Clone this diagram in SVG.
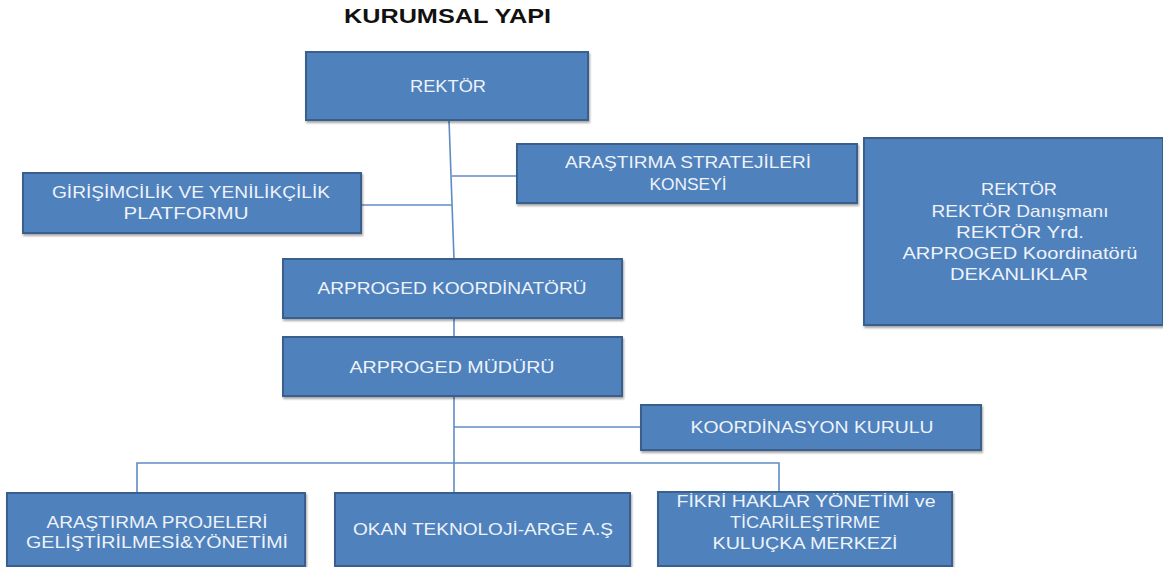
<svg xmlns="http://www.w3.org/2000/svg" width="1163" height="567" viewBox="0 0 1163 567">
<defs>
<style>
.box{fill:#4f81bd;stroke:#3a5f8c;stroke-width:2}
.t{font-family:"Liberation Sans",Arial,sans-serif;font-size:16.5px;fill:#eef3fa;text-anchor:middle}
.c{stroke:#5f8cc4;stroke-width:1.6;fill:none}
.title{font-family:"Liberation Sans",Arial,sans-serif;font-size:20px;font-weight:bold;fill:#111}
</style>
<filter id="sh" x="-5%" y="-5%" width="110%" height="120%">
<feDropShadow dx="1" dy="2" stdDeviation="1.2" flood-color="#000" flood-opacity="0.35"/>
</filter>
</defs>
<rect width="1163" height="567" fill="#fff"/>
<text class="title" x="344" y="23" textLength="207" lengthAdjust="spacingAndGlyphs">KURUMSAL YAPI</text>
<g id="connectors">
<path class="c" d="M449 120 L454 259"/>
<path class="c" d="M452 176 L517 176"/>
<path class="c" d="M361 205 L452 205"/>
<path class="c" d="M454 318 L454 337"/>
<path class="c" d="M454 396 L454 493"/>
<path class="c" d="M454 427 L641 427"/>
<path class="c" d="M137 493 L137 463 L779 463 L779 492"/>
</g>
<g id="rektor">
<rect class="box" filter="url(#sh)" x="306" y="52" width="282" height="68"/>
<text class="t" x="448" y="92" textLength="76" lengthAdjust="spacingAndGlyphs">REKTÖR</text>
</g>
<g id="girisimcilik">
<rect class="box" filter="url(#sh)" x="23" y="173" width="338" height="60"/>
<text class="t" x="191" y="198" textLength="278" lengthAdjust="spacingAndGlyphs">GİRİŞİMCİLİK VE YENİLİKÇİLİK</text>
<text class="t" x="186" y="219" textLength="125" lengthAdjust="spacingAndGlyphs">PLATFORMU</text>
</g>
<g id="arastirma-strateji">
<rect class="box" filter="url(#sh)" x="517" y="144" width="340" height="59"/>
<text class="t" x="688" y="168" textLength="246" lengthAdjust="spacingAndGlyphs">ARAŞTIRMA STRATEJİLERİ</text>
<text class="t" x="688" y="190" textLength="77" lengthAdjust="spacingAndGlyphs">KONSEYİ</text>
</g>
<g id="uyeler">
<rect class="box" filter="url(#sh)" x="864" y="138" width="299" height="187"/>
<text class="t" x="1019" y="195" textLength="76" lengthAdjust="spacingAndGlyphs">REKTÖR</text>
<text class="t" x="1020" y="217" textLength="177" lengthAdjust="spacingAndGlyphs">REKTÖR Danışmanı</text>
<text class="t" x="1020" y="238" textLength="128" lengthAdjust="spacingAndGlyphs">REKTÖR Yrd.</text>
<text class="t" x="1020" y="259" textLength="235" lengthAdjust="spacingAndGlyphs">ARPROGED Koordinatörü</text>
<text class="t" x="1019" y="280" textLength="138" lengthAdjust="spacingAndGlyphs">DEKANLIKLAR</text>
</g>
<g id="koordinator">
<rect class="box" filter="url(#sh)" x="283" y="259" width="339" height="59"/>
<text class="t" x="452" y="294" textLength="269" lengthAdjust="spacingAndGlyphs">ARPROGED KOORDİNATÖRÜ</text>
</g>
<g id="mudur">
<rect class="box" filter="url(#sh)" x="283" y="337" width="339" height="59"/>
<text class="t" x="452" y="373" textLength="205" lengthAdjust="spacingAndGlyphs">ARPROGED MÜDÜRÜ</text>
</g>
<g id="koordinasyon">
<rect class="box" filter="url(#sh)" x="641" y="405" width="340" height="45"/>
<text class="t" x="812" y="433" textLength="243" lengthAdjust="spacingAndGlyphs">KOORDİNASYON KURULU</text>
</g>
<g id="projeler">
<rect class="box" filter="url(#sh)" x="7" y="493" width="298" height="73"/>
<text class="t" x="157" y="528" textLength="221" lengthAdjust="spacingAndGlyphs">ARAŞTIRMA PROJELERİ</text>
<text class="t" x="157" y="548" textLength="262" lengthAdjust="spacingAndGlyphs">GELİŞTİRİLMESİ&amp;YÖNETİMİ</text>
</g>
<g id="okan">
<rect class="box" filter="url(#sh)" x="335" y="493" width="295" height="73"/>
<text class="t" x="483" y="535" textLength="260" lengthAdjust="spacingAndGlyphs">OKAN TEKNOLOJİ-ARGE A.Ş</text>
</g>
<g id="fikri">
<rect class="box" filter="url(#sh)" x="658" y="492" width="294" height="74"/>
<text class="t" x="806" y="507" textLength="259" lengthAdjust="spacingAndGlyphs">FİKRİ HAKLAR YÖNETİMİ ve</text>
<text class="t" x="805" y="528" textLength="150" lengthAdjust="spacingAndGlyphs">TİCARİLEŞTİRME</text>
<text class="t" x="805" y="549" textLength="185" lengthAdjust="spacingAndGlyphs">KULUÇKA MERKEZİ</text>
</g>
</svg>
